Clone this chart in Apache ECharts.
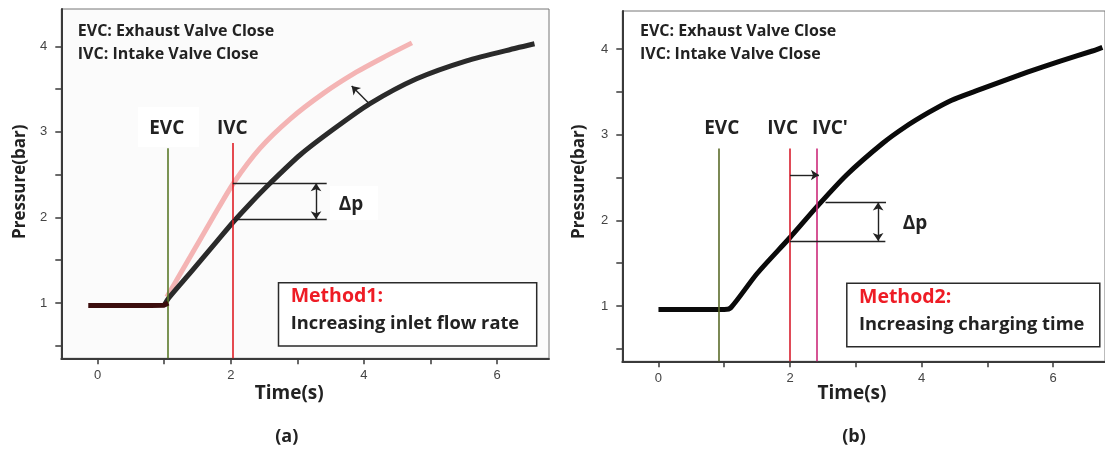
<!DOCTYPE html>
<html><head><meta charset="utf-8">
<script src="https://cdn.jsdelivr.net/npm/echarts@6/dist/echarts.min.js"></script>
<style>html,body{margin:0;padding:0;background:#fff}#c{width:1105px;height:450px}</style>
</head><body><div id="c"></div>
<script>
// ---- tick values ----
const xTickLabels = [0, 2, 4, 6];
const xTickMarks = [0, 1, 2, 3, 4, 5, 6];
const yTickLabels = [1, 2, 3, 4];
const yTickMarks = [0.5, 1, 1.5, 2, 2.5, 3, 3.5, 4];

// ---- panel (a) data ----
const aFlatTime = [-0.14, 0.2, 0.5, 0.8, 1.0, 1.06];
const aFlatP    = [0.97, 0.97, 0.97, 0.97, 0.975, 1.0];
const aBaseTime = [1.0, 1.06, 1.3, 1.54, 1.8, 2.04, 2.3, 2.59, 3.04, 3.54, 4.09, 4.79, 5.54, 6.29, 6.56];
const aBaseP    = [0.975, 1.05, 1.27, 1.49, 1.73, 1.95, 2.17, 2.40, 2.73, 3.03, 3.33, 3.62, 3.83, 3.98, 4.03];
const aFastTime = [1.04, 1.39, 1.74, 2.04, 2.44, 2.89, 3.39, 3.89, 4.29, 4.72];
const aFastP    = [1.07, 1.54, 2.01, 2.40, 2.81, 3.15, 3.45, 3.70, 3.87, 4.04];
const aEVC = 1.05, aIVC = 2.03;
const aDpHigh = 2.40, aDpLow = 1.978;

// ---- panel (b) data ----
const bTime = [0, 0.4, 0.8, 1.0, 1.1, 1.5, 2.0, 2.41, 2.86, 3.41, 3.75, 4.11, 4.45, 4.86, 5.61, 6.11, 6.61, 6.75];
const bP    = [0.96, 0.96, 0.96, 0.96, 0.98, 1.38, 1.80, 2.16, 2.53, 2.90, 3.09, 3.26, 3.40, 3.52, 3.73, 3.86, 3.98, 4.02];
const bEVC = 0.92, bIVC = 2.0, bIVC2 = 2.41;
const bDpHigh = 2.21, bDpLow = 1.76;

const pairs = (xs, ys) => xs.map((x, i) => [x, ys[i]]);

function xAxisCfg(gi, min, max) {
  return {
    type: 'value', gridIndex: gi, min: min, max: max,
    axisLine: { show: true, onZero: false, lineStyle: { color: '#3a3a3a', width: 2 } },
    axisTick: { show: true, inside: false, length: 6, customValues: xTickMarks, lineStyle: { color: '#3a3a3a', width: 1.5 } },
    axisLabel: { customValues: xTickLabels, margin: 11, color: '#444', fontSize: 13, fontFamily: 'Liberation Sans' },
    splitLine: { show: false }
  };
}
function yAxisCfg(gi, min, max) {
  return {
    type: 'value', gridIndex: gi, min: min, max: max,
    axisLine: { show: true, onZero: false, lineStyle: { color: '#3a3a3a', width: 2 } },
    axisTick: { show: true, inside: false, length: 6, customValues: yTickMarks, lineStyle: { color: '#3a3a3a', width: 1.5 } },
    axisLabel: { customValues: yTickLabels, margin: 14, color: '#444', fontSize: 13, fontFamily: 'Liberation Sans' },
    splitLine: { show: false }
  };
}

function vline(x, y0, y1, color) {
  return [{ coord: [x, y0], lineStyle: { color: color, width: 1.6, type: 'solid' } }, { coord: [x, y1] }];
}
function seg(x0, y0, x1, y1, sym0, sym1, color) {
  return [{ coord: [x0, y0], symbol: sym0, lineStyle: { color: color || '#222', width: 1.4, type: 'solid' } },
          { coord: [x1, y1], symbol: sym1 }];
}

const aYmin = 0.354, aYmax = 4.436, bYmin = 0.355, bYmax = 4.444;
const T = (x, y, text, size, opts) => Object.assign({ type: 'text', z: 100, x: x, y: y,
  style: Object.assign({ text: text, font: 'bold ' + size + 'px "Open Sans"', fill: '#222', textVerticalAlign: 'middle' }, (opts && opts.style) || {}) },
  (opts && opts.el) || {});
const C = { style: { textAlign: 'center' } };

const option = {
  animation: false,
  grid: [
    { left: 61.3, top: 9, width: 487.7, height: 349.3, show: true, borderColor: '#777', borderWidth: 1, backgroundColor: '#fbfbfb' },
    { left: 622.3, top: 11, width: 489, height: 350.3, show: true, borderColor: '#777', borderWidth: 1, backgroundColor: '#ffffff' }
  ],
  xAxis: [xAxisCfg(0, -0.545, 6.778), xAxisCfg(1, -0.55, 6.79)],
  yAxis: [yAxisCfg(0, aYmin, aYmax), yAxisCfg(1, bYmin, bYmax)],
  series: [
    { type: 'line', xAxisIndex: 0, yAxisIndex: 0, data: pairs(aFastTime, aFastP), smooth: 0.25, symbol: 'none',
      lineStyle: { color: '#f4b4b4', width: 5 }, z: 3 },
    { type: 'line', xAxisIndex: 0, yAxisIndex: 0, data: pairs(aBaseTime, aBaseP), smooth: 0.25, symbol: 'none',
      lineStyle: { color: '#2a2a2a', width: 5 }, z: 4 },
    { type: 'line', xAxisIndex: 0, yAxisIndex: 0, data: pairs(aFlatTime, aFlatP), symbol: 'none',
      lineStyle: { color: '#3b0d0d', width: 5 }, z: 5,
      markLine: { silent: true, symbol: ['none', 'none'], symbolSize: 8, label: { show: false }, animation: false,
        data: [
          vline(aEVC, aYmin, 2.81, '#5b7a2a'),
          vline(aIVC, aYmin, 2.87, '#e01e26'),
          seg(aIVC, aDpHigh, 3.44, aDpHigh, 'none', 'none'),
          seg(aIVC, aDpLow, 3.44, aDpLow, 'none', 'none'),
          seg(3.28, aDpHigh, 3.28, aDpLow, 'arrow', 'arrow'),
          seg(4.065, 3.341, 3.815, 3.536, 'none', 'arrow')
        ] } },
    { type: 'line', xAxisIndex: 1, yAxisIndex: 1, data: pairs(bTime, bP), smooth: 0.25, symbol: 'none',
      lineStyle: { color: '#0a0a0a', width: 5 }, z: 4,
      markLine: { silent: true, symbol: ['none', 'none'], symbolSize: 8, label: { show: false }, animation: false,
        data: [
          vline(bEVC, bYmin, 2.84, '#5b6b2a'),
          vline(bIVC, bYmin, 2.84, '#d81e2e'),
          vline(bIVC2, bYmin, 2.84, '#cc2a7a'),
          seg(bIVC, 2.53, 2.44, 2.53, 'none', 'arrow'),
          seg(2.54, bDpHigh, 3.46, bDpHigh, 'none', 'none'),
          seg(bIVC, bDpLow, 3.45, bDpLow, 'none', 'none'),
          seg(3.34, bDpHigh, 3.34, bDpLow, 'arrow', 'arrow')
        ] } }
  ],
  graphic: [
    { type: 'rect', z: 1, shape: { x: 138, y: 107, width: 61, height: 40 }, style: { fill: '#ffffff' } },
    { type: 'rect', z: 1, shape: { x: 330, y: 186, width: 48, height: 34 }, style: { fill: '#ffffff' } },
    T(77.8, 31, 'EVC: Exhaust Valve Close', 16),
    T(77.8, 54, 'IVC: Intake Valve Close', 16),
    T(640, 31, 'EVC: Exhaust Valve Close', 16),
    T(640, 54, 'IVC: Intake Valve Close', 16),
    T(166.7, 128.3, 'EVC', 19, C),
    T(232.3, 128.3, 'IVC', 19, C),
    T(351, 205, 'Δp', 19, C),
    T(721.7, 128.3, 'EVC', 19, C),
    T(782.7, 128.3, 'IVC', 19, C),
    T(830, 128.3, "IVC'", 19, C),
    T(915, 223.3, 'Δp', 19, C),
    { type: 'rect', z: 50, shape: { x: 278.5, y: 282.7, width: 258.2, height: 63.3 }, style: { fill: '#ffffff', stroke: '#2a2a2a', lineWidth: 1.5 } },
    T(290.7, 296.7, 'Method1:', 19.5, { style: { fill: '#ee1c25' } }),
    T(290.7, 323.3, 'Increasing inlet flow rate', 18.3),
    { type: 'rect', z: 50, shape: { x: 846.8, y: 283.3, width: 253, height: 63.4 }, style: { fill: '#ffffff', stroke: '#2a2a2a', lineWidth: 1.5 } },
    T(859, 297.3, 'Method2:', 19.5, { style: { fill: '#ee1c25' } }),
    T(859, 324.3, 'Increasing charging time', 18.3),
    T(289.2, 393.3, 'Time(s)', 19, C),
    T(852, 394, 'Time(s)', 19, C),
    T(19.7, 181.7, 'Pressure(bar)', 17, { style: { textAlign: 'center' }, el: { rotation: Math.PI / 2 } }),
    T(579, 181.7, 'Pressure(bar)', 17, { style: { textAlign: 'center' }, el: { rotation: Math.PI / 2 } }),
    T(286.7, 436.7, '(a)', 18, C),
    T(854, 436.7, '(b)', 18, C)
  ]
};
const chart = echarts.init(document.getElementById('c'), null, { renderer: 'canvas' });
chart.setOption(option);
</script></body></html>
